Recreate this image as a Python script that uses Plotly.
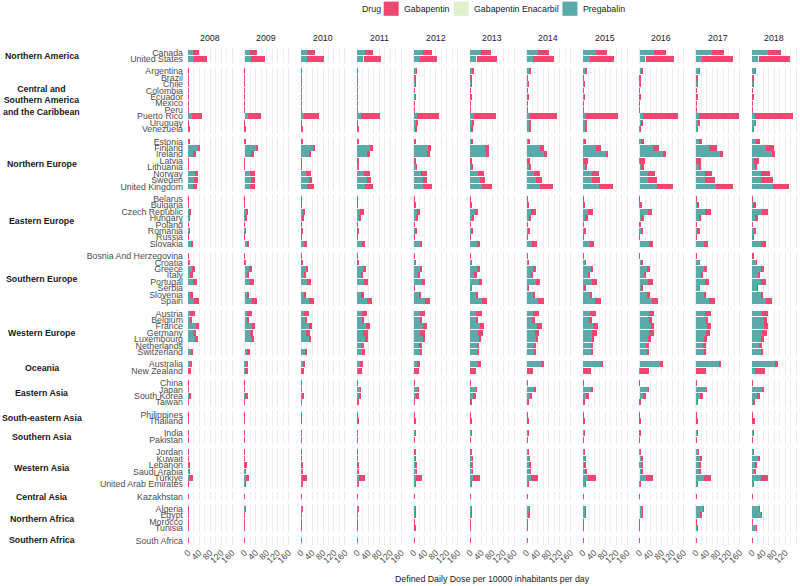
import plotly.graph_objects as go
from plotly.subplots import make_subplots

# ---------------- data ----------------
years = [2008, 2009, 2010, 2011, 2012, 2013, 2014, 2015, 2016, 2017, 2018]
year_labels = [str(y) for y in years]
drugs = ["Gabapentin", "Gabapentin Enacarbil", "Pregabalin"]
legend_title = "Drug"

region_names = [
    "Northern America",
    "Central and<br>Southern America<br>and the Caribbean",
    "Northern Europe",
    "Eastern Europe",
    "Southern Europe",
    "Western Europe",
    "Oceania",
    "Eastern Asia",
    "South-eastern Asia",
    "Southern Asia",
    "Western Asia",
    "Central Asia",
    "Northern Africa",
    "Southern Africa",
]

pregabalin_northern_america = {
    "Canada": [17, 21, 23, 29, 32, 39, 42, 47, 53, 58, 58],
    "United States": [22, 22, 22, 22, 22, 23, 24, 25, 24, 23, 23],
}
gabapentin_northern_america = {
    "Canada": [24, 25, 28, 29, 33, 35, 38, 41, 44, 45, 46],
    "United States": [45, 52, 61, 64, 63, 73, 76, 88, 102, 113, 114],
}

pregabalin_latin_america = {
    "Argentina": [0.5, 1, 1.5, 1, 8, 10, 10, 10, 10, 11, 12],
    "Brazil": [0.3, 0.3, 0.3, 0.3, 0.5, 0.5, 0.5, 0.5, 0.5, 0.5, 2],
    "Chile": [0.5, 0.5, 0.5, 0.5, 4, 4, 5, 5, 6, 6, 6],
    "Colombia": [0.3, 0.3, 0.3, 0.3, 1, 1, 1, 1, 1, 0.8, 1],
    "Ecuador": [0.3, 0.3, 0.5, 0.5, 3, 2.5, 2.5, 3, 2.5, 2.5, 2.5],
    "Mexico": [0.3, 0.5, 0.5, 0.5, 0.5, 0.5, 0.5, 0.5, 0.5, 0.5, 0.5],
    "Peru": [0.3, 0.3, 0.3, 0.3, 0.3, 0.3, 0.3, 0.3, 0.3, 0.3, 0.3],
    "Puerto Rico": [15, 13, 11, 13, 13, 13, 13, 12, 11, 10, 11],
    "Uruguay": [0.5, 0.5, 0.5, 0.5, 8.5, 8.5, 8.5, 8.5, 10, 10, 11],
    "Venezuela": [2, 2, 2, 2, 6, 6, 8, 8, 4, 3, 3],
}
gabapentin_latin_america = {
    "Argentina": [1.5, 0.5, 0.5, 1.5, 1, 1, 0.5, 0.5, 1, 0.5, 0.5],
    "Brazil": [0.5, 0.5, 0.5, 0.5, 2.5, 4, 2, 2, 4, 3, 4],
    "Chile": [1, 0.5, 0.5, 0.5, 0.5, 0.5, 0.5, 0.5, 0.5, 0.5, 0.5],
    "Colombia": [0.5, 0.3, 0.3, 0.3, 0.5, 0.5, 0.5, 0.5, 0.5, 0.5, 0.5],
    "Ecuador": [0.5, 0.3, 0.3, 0.3, 1.5, 1, 1, 1, 0.5, 0.5, 0.5],
    "Mexico": [1, 0.5, 0.5, 0.5, 1.5, 1, 1, 1, 1.5, 1, 1],
    "Peru": [0.5, 0.5, 0.5, 0.5, 1, 0.5, 0.5, 0.5, 0.5, 0.5, 0.5],
    "Puerto Rico": [35, 46, 56, 70, 80, 82, 98, 116, 130, 147, 136],
    "Uruguay": [1, 2, 2, 2, 2, 3.5, 5, 3.5, 3.5, 2.5, 2.5],
    "Venezuela": [5, 4, 4, 4, 3.5, 5, 7, 7, 0.5, 0.5, 0.5],
}

pregabalin_northern_europe = {
    "Estonia": [0.5, 0.5, 0.5, 1, 1, 4, 5, 5, 6, 10, 12],
    "Finland": [35, 40, 42, 46, 51, 53, 47, 47, 48, 48, 48],
    "Ireland": [19, 25, 30, 36, 47, 58, 64, 82, 87, 87, 70],
    "Latvia": [0.3, 0.3, 0.3, 0.5, 0.5, 1, 1, 1, 1, 1, 6],
    "Lithuania": [1, 1, 1, 3, 7, 6, 7, 8, 10, 11, 11],
    "Norway": [23, 21, 19, 23, 27, 29, 28, 32, 32, 34, 33],
    "Sweden": [22, 24, 28, 33, 32, 34, 33, 33, 32, 32, 33],
    "United Kingdom": [16, 19, 22, 28, 34, 42, 50, 59, 65, 72, 75],
}
gabapentin_northern_europe = {
    "Estonia": [3, 3, 3, 4, 5, 4, 5, 7, 10, 11, 16],
    "Finland": [8.5, 8.5, 10, 11, 12, 15, 17, 18, 21, 27, 30],
    "Ireland": [8.5, 8.5, 7, 10, 10, 11, 11, 10, 10, 11, 12],
    "Latvia": [2, 2, 2, 6, 8, 7, 12, 15, 18, 19, 18],
    "Lithuania": [1, 1, 1, 1, 2, 4, 4, 4, 5, 5, 6],
    "Norway": [12, 16, 17, 22, 21, 21, 22, 24, 25, 25, 30],
    "Sweden": [12, 15, 12, 15, 16, 18, 22, 27, 33, 38, 41],
    "United Kingdom": [16, 17, 24, 29, 33, 38, 45, 48, 58, 61, 59],
}

pregabalin_eastern_europe = {
    "Belarus": [0.3, 0.3, 0.3, 0.3, 0.3, 0.3, 0.3, 0.3, 0.3, 0.3, 0.3],
    "Bulgaria": [0.3, 0.5, 0.5, 0.5, 0.5, 0.5, 0.5, 0.5, 3, 5, 6],
    "Czech Republic": [5, 6, 8.5, 11, 11, 16, 16, 19, 29, 32, 35],
    "Hungary": [6, 6, 6, 8.5, 8.5, 10, 10, 10, 10, 11, 12],
    "Poland": [0.3, 0.3, 0.3, 0.3, 0.3, 0.5, 0.5, 0.5, 0.5, 0.5, 2],
    "Romania": [3, 4, 2, 1, 3, 3, 5, 5, 4, 4, 6],
    "Russia": [0.5, 0.5, 0.5, 0.5, 1.5, 1, 1.5, 2, 1, 1, 3],
    "Slovakia": [8.5, 11, 13, 18, 21, 23, 21, 24, 33, 29, 32],
}
gabapentin_eastern_europe = {
    "Belarus": [0.5, 0.5, 0.5, 0.5, 1.5, 1, 1, 1, 1, 1, 1],
    "Bulgaria": [1, 2, 1.5, 2, 3, 3, 4, 4, 5, 4, 6],
    "Czech Republic": [7, 8, 7, 11, 13, 13, 16, 18, 18, 22, 22],
    "Hungary": [0.5, 2, 3, 2, 5, 5, 6, 7, 7, 7, 7],
    "Poland": [1, 0.5, 0.5, 2, 1, 1, 2, 2, 3, 2, 0.5],
    "Romania": [0.3, 0.3, 3, 4, 4, 5, 5, 6, 8, 9, 8],
    "Russia": [0.3, 0.3, 0.3, 0.3, 0.3, 0.3, 0.3, 0.3, 0.3, 0.3, 0.3],
    "Slovakia": [8.5, 6, 7, 10, 10, 11, 15, 15, 15, 15, 17],
}

pregabalin_southern_europe = {
    "Bosnia And Herzegovina": [0, 0, 0, 0, 0.3, 0.3, 0.3, 0.3, 0.3, 0.3, 0.5],
    "Croatia": [0.5, 0.5, 0.5, 1, 4, 6, 6, 8, 10, 11, 15],
    "Greece": [15, 17, 17, 19, 22, 23, 22, 27, 28, 28, 32],
    "Italy": [10, 11, 11, 15, 15, 16, 17, 18, 18, 19, 19],
    "Portugal": [18, 21, 21, 23, 29, 30, 32, 34, 32, 32, 33],
    "Serbia": [0, 0, 0, 0, 0.3, 3, 3, 6, 10, 12, 18],
    "Slovenia": [10, 13, 13, 17, 21, 23, 23, 27, 32, 32, 34],
    "Spain": [22, 27, 30, 35, 39, 42, 42, 44, 46, 47, 50],
}
gabapentin_southern_europe = {
    "Bosnia And Herzegovina": [0.3, 0.3, 0.3, 0.3, 1, 1, 1, 1, 1, 1, 4],
    "Croatia": [3, 3, 3, 3, 0.5, 0.5, 0.5, 2, 1, 1, 1],
    "Greece": [8.5, 10, 10, 12, 8.5, 11, 11, 10, 11, 12, 12],
    "Italy": [7, 5, 5, 5, 6, 7, 7, 8.5, 7, 7, 8.5],
    "Portugal": [15, 13, 16, 16, 13, 13, 16, 15, 16, 16, 17],
    "Serbia": [0, 0, 0, 0, 0.5, 0.5, 0.5, 2, 0.5, 0.5, 0.5],
    "Slovenia": [6, 4, 5, 5, 4, 5, 6, 5, 5, 5, 5],
    "Spain": [18, 18, 18, 19, 19, 19, 21, 21, 21, 22, 21],
}

pregabalin_western_europe = {
    "Austria": [7, 10, 11, 17, 21, 22, 23, 24, 33, 34, 36],
    "Belgium": [7, 12, 16, 21, 22, 22, 21, 22, 38, 38, 44],
    "France": [27, 28, 29, 32, 34, 36, 39, 41, 41, 41, 41],
    "Germany": [16, 19, 19, 21, 24, 27, 29, 33, 35, 35, 36],
    "Luxembourg": [24, 24, 29, 30, 32, 33, 33, 34, 34, 32, 32],
    "Netherlands": [0, 0, 0, 17, 21, 25, 25, 30, 28, 28, 28],
    "Switzerland": [12, 13, 16, 19, 24, 28, 28, 30, 29, 32, 34],
}
gabapentin_western_europe = {
    "Austria": [16, 16, 18, 18, 18, 21, 21, 21, 21, 22, 21],
    "Belgium": [5, 4, 5, 4, 6, 7, 8, 11, 6, 6, 8.5],
    "France": [12, 11, 11, 12, 12, 13, 15, 13, 13, 15, 16],
    "Germany": [13, 13, 13, 19, 18, 18, 17, 16, 16, 16, 17],
    "Luxembourg": [10, 10, 6, 7, 8.5, 7, 6, 7, 7, 7, 8.5],
    "Netherlands": [0, 0, 0, 7, 7, 6, 6, 6, 7, 7, 7],
    "Switzerland": [6, 6, 5, 7, 5, 4, 5, 6, 5, 5, 6],
}

pregabalin_oceania = {
    "Australia": [5, 5, 6, 11, 12, 29, 56, 68, 79, 85, 86],
    "New Zealand": [0.3, 0.3, 0.3, 0.3, 0.3, 0.3, 0.3, 0.3, 0.3, 0.3, 8.5],
}
gabapentin_oceania = {
    "Australia": [8.5, 8.5, 10, 8.5, 8.5, 10, 6, 6, 6, 6, 6],
    "New Zealand": [10, 11, 12, 16, 18, 22, 24, 28, 33, 36, 39],
}

pregabalin_eastern_asia = {
    "China": [0.2, 0.2, 0.2, 0.2, 0.3, 0.3, 0.3, 0.3, 0.3, 0.3, 0.3],
    "Japan": [0.3, 0.3, 0.5, 11, 17, 23, 28, 32, 34, 36, 39],
    "South Korea": [3, 6, 6, 8, 10, 11, 12, 12, 13, 15, 16],
    "Taiwan": [0.3, 0.3, 0.3, 0.3, 0.5, 0.5, 0.5, 1, 2, 3, 4],
}
gabapentin_eastern_asia = {
    "China": [0.2, 0.2, 0.2, 0.2, 0.2, 0.2, 0.2, 0.2, 0.2, 0.2, 0.2],
    "Japan": [1, 1, 2, 0.5, 0.5, 0.5, 0.5, 0.5, 0.5, 0.5, 0.5],
    "South Korea": [7, 5, 5, 6, 7, 8.5, 8.5, 8.5, 10, 10, 12],
    "Taiwan": [2, 2, 1, 3, 2, 3, 3, 2, 2, 2, 3],
}

pregabalin_southeastern_asia = {
    "Philippines": [0.3, 0.5, 0.5, 0.5, 0.5, 0.5, 0.5, 0.5, 0.5, 0.5, 0.5],
    "Thailand": [0, 0, 0, 0, 0.3, 0.3, 0.3, 0.3, 0.3, 0.3, 0.3],
}
gabapentin_southeastern_asia = {
    "Philippines": [1, 0.3, 0.3, 0.3, 0.3, 0.3, 0.3, 0.3, 0.3, 0.3, 0.3],
    "Thailand": [0.5, 0.5, 2, 4, 5, 5, 5, 4, 5, 6, 8],
}

pregabalin_southern_asia = {
    "India": [2, 2, 2, 2, 3, 3, 3, 3, 2, 3, 3],
    "Pakistan": [1, 1.5, 1.5, 1.5, 2, 2, 2, 2, 2, 1.5, 2],
}
gabapentin_southern_asia = {
    "India": [0.3, 0.3, 0.3, 0.3, 0.3, 0.3, 0.3, 0.3, 1, 0.3, 0.3],
    "Pakistan": [0.3, 0.3, 0.3, 0.3, 0.3, 0.3, 0.3, 0.3, 0.3, 0.3, 0.3],
}

pregabalin_western_asia = {
    "Jordan": [0.5, 2, 0.5, 1, 2, 2, 4, 4, 5, 8, 3],
    "Kuwait": [1, 1.5, 1, 1, 5, 8, 8, 8, 10, 15, 19],
    "Lebanon": [1, 2, 2, 2, 5, 6, 7, 6, 7, 11, 11],
    "Saudi Arabia": [3, 4, 4, 6, 7, 8, 11, 10, 8, 11, 7],
    "Türkiye": [4, 4, 4, 6, 6, 10, 15, 19, 23, 28, 33],
    "United Arab Emirates": [2, 3, 5, 5, 4, 4, 6, 8, 6, 5, 5],
}
gabapentin_western_asia = {
    "Jordan": [1, 0.3, 2, 1, 2, 2, 0.5, 2, 0.5, 0.5, 3],
    "Kuwait": [0.3, 0.3, 0.3, 0.3, 0.3, 0.3, 0.3, 0.3, 0.3, 8, 8],
    "Lebanon": [4, 5, 5, 5, 4, 4, 5, 5, 5, 6, 5],
    "Saudi Arabia": [0.3, 0.3, 0.3, 0.3, 0.3, 0.3, 0.3, 0.3, 4, 5, 5],
    "Türkiye": [12, 13, 17, 22, 25, 25, 25, 27, 25, 28, 25],
    "United Arab Emirates": [0.3, 0.3, 0.3, 0.3, 0.3, 0.3, 0.3, 0.3, 0.3, 0.3, 0.3],
}

pregabalin_central_asia = {
    "Kazakhstan": [0.3, 0.3, 0.3, 0.3, 0.5, 0.5, 0.5, 0.5, 0.5, 1, 1],
}
gabapentin_central_asia = {
    "Kazakhstan": [0.2, 0.2, 0.2, 0.2, 0.2, 0.2, 0.2, 0.2, 0.2, 0.2, 0.2],
}

pregabalin_northern_africa = {
    "Algeria": [1.5, 3, 3, 3, 6, 6, 7, 9, 11, 26, 26],
    "Egypt": [0.3, 0.3, 0.3, 0.3, 3, 4, 6, 8, 12, 17, 33],
    "Morocco": [0.3, 0.3, 0.3, 0.3, 0.3, 0.3, 0.3, 0.3, 0.3, 0.3, 1],
    "Tunisia": [0.3, 0.3, 0.3, 0.3, 1.5, 2, 2, 2, 2, 6, 17],
}
gabapentin_northern_africa = {
    "Algeria": [0.3, 0.3, 0.3, 0.3, 0.3, 0.3, 0.3, 0.3, 0.3, 1, 1],
    "Egypt": [1, 1, 2, 1, 1.5, 1, 1, 1, 1, 1, 2],
    "Morocco": [0.3, 0.3, 0.3, 0.3, 0.3, 0.3, 0.3, 0.3, 0.3, 0.3, 0.3],
    "Tunisia": [0.5, 1.5, 1, 1, 4, 0.5, 0.5, 0.5, 0.5, 0.5, 0.5],
}

pregabalin_southern_africa = {
    "South Africa": [1, 2, 2, 2, 2, 2, 1.5, 1.5, 2, 2, 2],
}
gabapentin_southern_africa = {
    "South Africa": [0.3, 0.3, 0.3, 0.3, 0.3, 0.3, 0.3, 0.3, 0.3, 0.3, 0.3],
}

enacarbil_values = {
    "United States": [0, 0, 0, 0.2, 0.5, 0.5, 0.5, 0.5, 0.5, 0.5, 0.5],
}

pregabalin_by_region = [
    pregabalin_northern_america, pregabalin_latin_america, pregabalin_northern_europe,
    pregabalin_eastern_europe, pregabalin_southern_europe, pregabalin_western_europe,
    pregabalin_oceania, pregabalin_eastern_asia, pregabalin_southeastern_asia,
    pregabalin_southern_asia, pregabalin_western_asia, pregabalin_central_asia,
    pregabalin_northern_africa, pregabalin_southern_africa,
]
gabapentin_by_region = [
    gabapentin_northern_america, gabapentin_latin_america, gabapentin_northern_europe,
    gabapentin_eastern_europe, gabapentin_southern_europe, gabapentin_western_europe,
    gabapentin_oceania, gabapentin_eastern_asia, gabapentin_southeastern_asia,
    gabapentin_southern_asia, gabapentin_western_asia, gabapentin_central_asia,
    gabapentin_northern_africa, gabapentin_southern_africa,
]

x_ticks = [0, 40, 80, 120, 160]
x_title = "Defined Daily Dose per 10000 inhabitants per day"

# ---------------- styling / geometry ----------------
colors = {"Gabapentin": "#EF476F", "Gabapentin Enacarbil": "#E1F0CC", "Pregabalin": "#5AAAAA"}
FONT = "Liberation Sans, Arial, sans-serif"
FS = 8.8

W, H = 800, 586
m_left, m_right, m_top, m_bottom = 185.5, 1.6, 48.2, 40.8
plot_w = W - m_left - m_right
plot_h = H - m_top - m_bottom
pad = 0.2


def px_x(px):
    return (px - m_left) / plot_w


def px_y(py):
    return 1 + (m_top - py) / plot_h


n_rows = len(region_names)
n_cols = len(years)
row_heights = [len(d) + 2 * pad for d in pregabalin_by_region]

fig = make_subplots(
    rows=n_rows, cols=n_cols,
    row_heights=row_heights,
    horizontal_spacing=8.65 / plot_w,
    vertical_spacing=3.3 / plot_h,
)

order = ["Pregabalin", "Gabapentin Enacarbil", "Gabapentin"]

for r in range(n_rows):
    preg = pregabalin_by_region[r]
    gaba = gabapentin_by_region[r]
    countries = list(preg.keys())
    n = len(countries)
    for c in range(n_cols):
        for drug in order:
            if drug == "Pregabalin":
                xs = [preg[k][c] for k in countries]
            elif drug == "Gabapentin":
                xs = [gaba[k][c] for k in countries]
            else:
                xs = [enacarbil_values.get(k, [0] * n_cols)[c] for k in countries]
            fig.add_trace(
                go.Bar(
                    y=countries, x=xs, orientation="h", name=drug,
                    marker=dict(color=colors[drug], line=dict(width=0)),
                    legendgroup=drug, showlegend=False,
                    hovertemplate="%{y}: %{x}<extra>" + drug + "</extra>",
                ),
                row=r + 1, col=c + 1,
            )
        fig.update_xaxes(
            range=[-8, 166], tickmode="array", tickvals=x_ticks,
            ticktext=[str(v) for v in x_ticks],
            showgrid=True, gridcolor="#EBEBEB", gridwidth=1, zeroline=False,
            showline=False, ticks="", showticklabels=(r == n_rows - 1),
            tickangle=-45, tickfont=dict(family=FONT, size=FS, color="#4D4D4D"),
            minor=dict(tickmode="linear", tick0=0, dtick=20, showgrid=True,
                       gridcolor="#EFEFEF", gridwidth=1),
            fixedrange=True,
            row=r + 1, col=c + 1,
        )
        fig.update_yaxes(
            type="category", categoryorder="array", categoryarray=countries,
            range=[n - 0.5 + pad, -0.5 - pad], tickmode="array",
            tickvals=countries, ticktext=countries,
            showticklabels=(c == 0), showgrid=False, zeroline=False,
            showline=False, ticks="", ticklabelstandoff=2,
            tickfont=dict(family=FONT, size=FS, color="#4D4D4D"),
            fixedrange=True,
            row=r + 1, col=c + 1,
        )

annotations = []
shapes = []
# year column headers
for c in range(n_cols):
    ax = "x" if c == 0 else f"x{c + 1}"
    annotations.append(dict(
        text=year_labels[c], xref=f"{ax} domain", x=0.5, yref="paper",
        y=px_y(38.3), yanchor="middle", xanchor="center",
        showarrow=False, font=dict(family=FONT, size=FS, color="#1A1A1A"),
    ))
# region row labels
for r in range(n_rows):
    idx = r * n_cols + 1
    ay = "y" if idx == 1 else f"y{idx}"
    annotations.append(dict(
        text="<b>" + region_names[r] + "</b>", xref="paper",
        x=px_x(41), yref=f"{ay} domain", y=0.5,
        xanchor="center", yanchor="middle", align="center", showarrow=False,
        font=dict(family=FONT, size=FS, color="#1A1A1A"),
    ))
# x axis title
annotations.append(dict(
    text=x_title, xref="paper", x=0.5, yref="paper",
    y=px_y(579), xanchor="center", yanchor="middle",
    showarrow=False, font=dict(family=FONT, size=FS, color="#1A1A1A"),
))

# legend (drawn as key boxes + labels)
annotations.append(dict(
    text=legend_title, xref="paper", x=px_x(359.5), yref="paper", y=px_y(9),
    xanchor="left", yanchor="middle", showarrow=False,
    font=dict(family=FONT, size=FS, color="#1A1A1A"),
))
legend_box_x = {"Gabapentin": 383.5, "Gabapentin Enacarbil": 453.5, "Pregabalin": 562.5}
for drug in drugs:
    x0 = legend_box_x[drug]
    shapes.append(dict(
        type="rect", xref="paper", yref="paper",
        x0=px_x(x0), x1=px_x(x0 + 15), y0=px_y(16), y1=px_y(1.8),
        fillcolor=colors[drug], line=dict(width=0), layer="above",
    ))
    annotations.append(dict(
        text=drug, xref="paper", x=px_x(x0 + 18.5), yref="paper", y=px_y(9),
        xanchor="left", yanchor="middle", showarrow=False,
        font=dict(family=FONT, size=FS, color="#1A1A1A"),
    ))

fig.update_layout(
    width=W, height=H,
    margin=dict(l=m_left, r=m_right, t=m_top, b=m_bottom, pad=0, autoexpand=False),
    barmode="stack", bargap=0.1,
    plot_bgcolor="white", paper_bgcolor="white",
    font=dict(family=FONT, size=FS, color="#1A1A1A"),
    annotations=annotations,
    shapes=shapes,
    showlegend=False,
)

fig.write_html(
    "out.html",
    config={"displayModeBar": False},
    post_script="document.body.style.margin='0';document.body.style.overflow='hidden';",
)
